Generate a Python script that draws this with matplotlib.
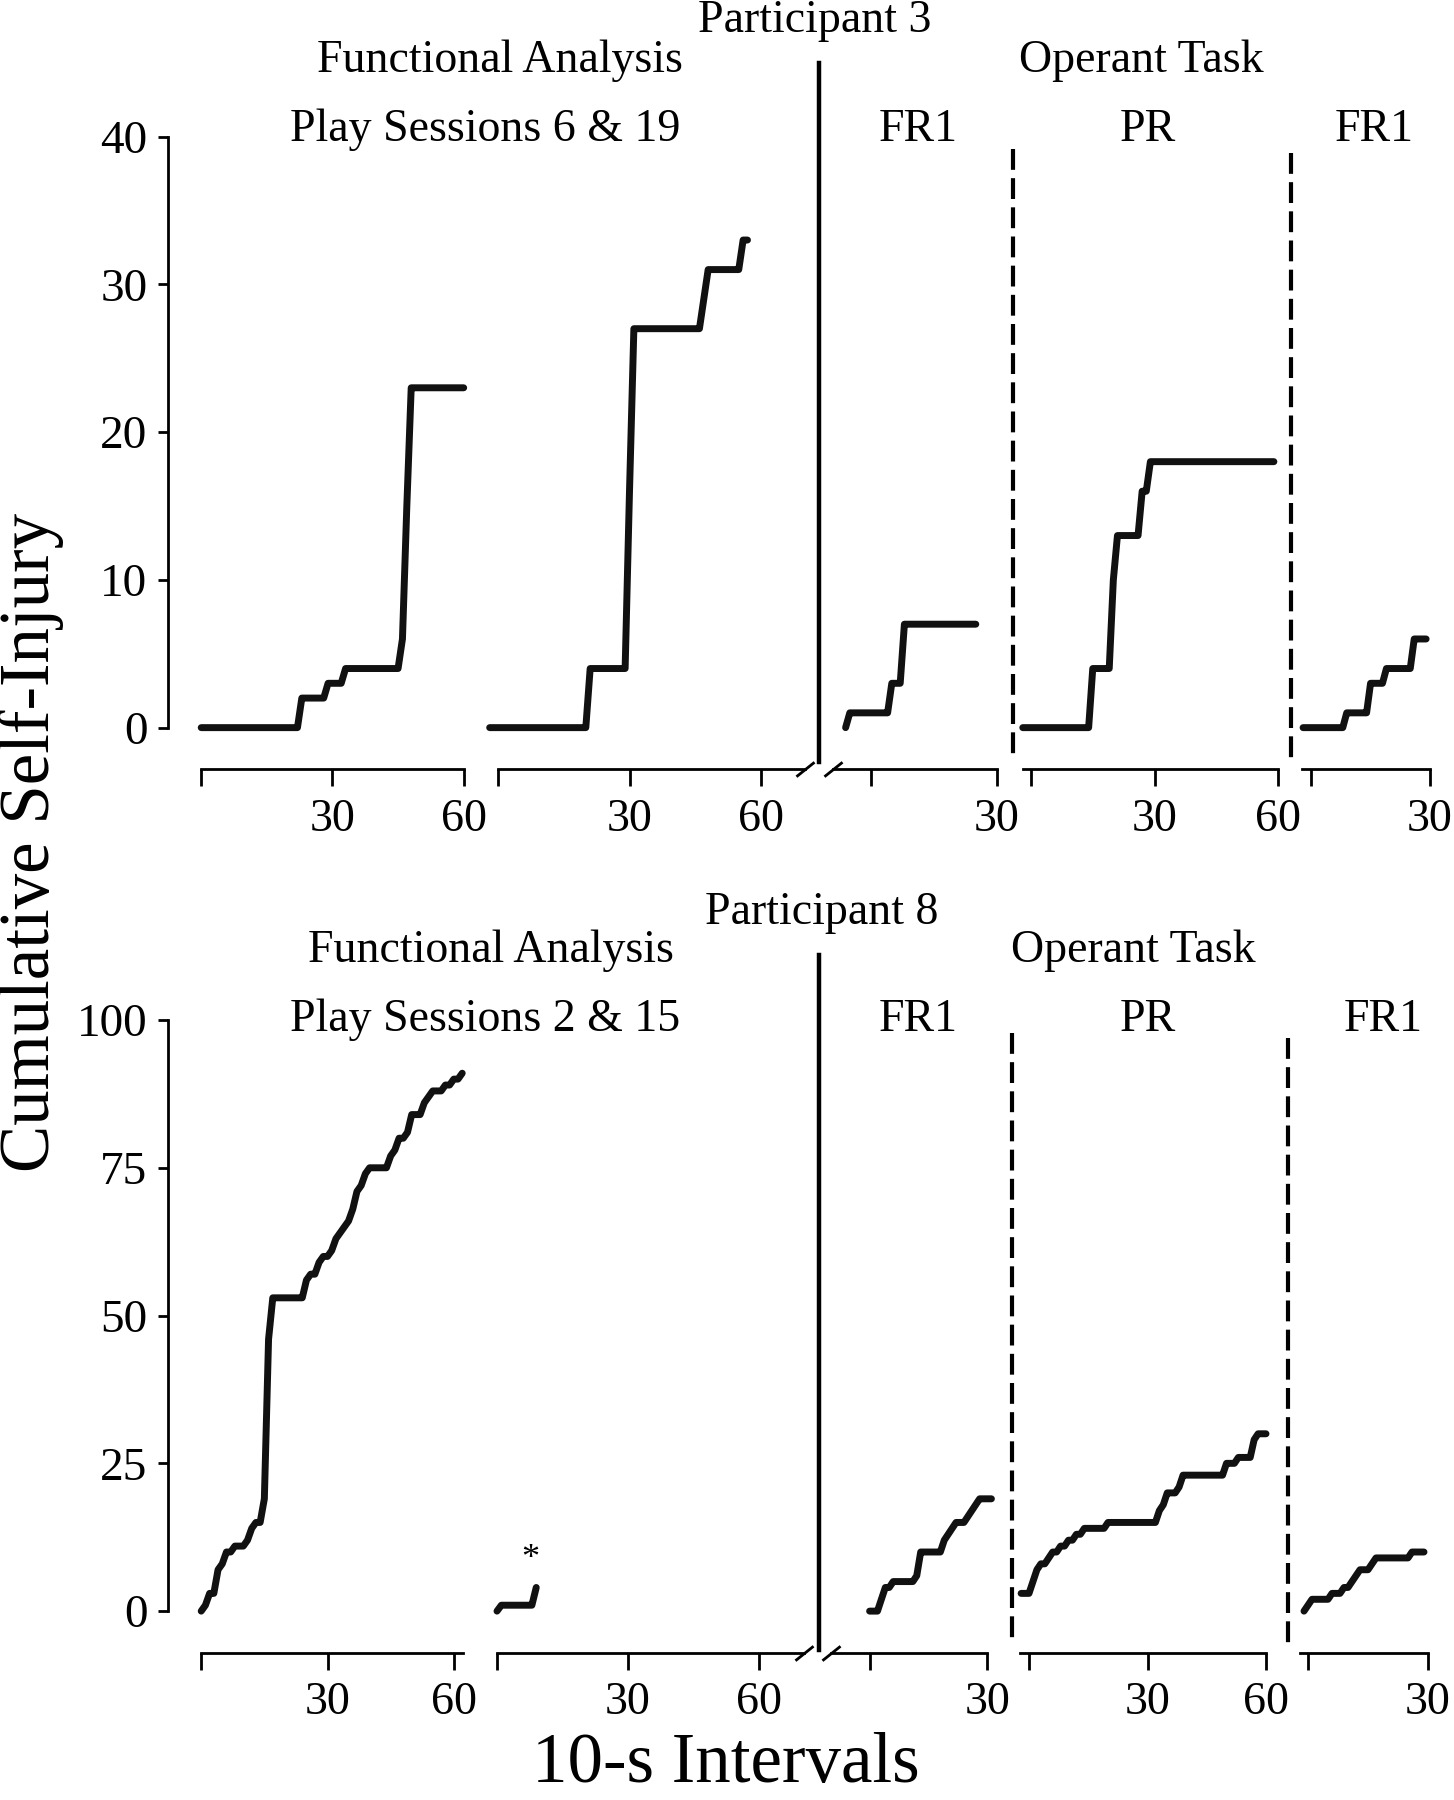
import matplotlib
matplotlib.use("Agg")
import matplotlib.pyplot as plt
from matplotlib.lines import Line2D
import numpy as np

plt.rcParams['font.family'] = ['Liberation Serif', 'DejaVu Serif']

# cumulative self-injury per 10-s interval; *_x0 = interval of the first value

# Participant 3
p3_fa6_x0 = 0
p3_fa6 = [0, 0, 0, 0, 0, 0, 0, 0, 0, 0, 0, 0, 0, 0, 0, 0, 0, 0, 0, 0,
          0, 0, 0, 2, 2, 2, 2, 2, 2, 3, 3, 3, 3, 4, 4, 4, 4, 4, 4, 4,
          4, 4, 4, 4, 4, 4, 6, 15, 23, 23, 23, 23, 23, 23, 23, 23, 23, 23, 23, 23,
          23]
p3_fa19_x0 = -2
p3_fa19 = [0, 0, 0, 0, 0, 0, 0, 0, 0, 0, 0, 0, 0, 0, 0, 0, 0, 0, 0, 0,
           0, 0, 0, 4, 4, 4, 4, 4, 4, 4, 4, 4, 16, 27, 27, 27, 27, 27, 27, 27,
           27, 27, 27, 27, 27, 27, 27, 27, 27, 29, 31, 31, 31, 31, 31, 31, 31, 31, 33, 33]
p3_fr1a_x0 = -6
p3_fr1a = [0, 1, 1, 1, 1, 1, 1, 1, 1, 1, 1, 3, 3, 3, 7, 7,
           7, 7, 7, 7, 7, 7, 7, 7, 7, 7, 7, 7, 7, 7, 7, 7]
p3_pr_x0 = -2
p3_pr = [0, 0, 0, 0, 0, 0, 0, 0, 0, 0, 0, 0, 0, 0, 0, 0, 0, 4, 4, 4,
         4, 4, 10, 13, 13, 13, 13, 13, 13, 16, 16, 18, 18, 18, 18, 18, 18, 18, 18, 18,
         18, 18, 18, 18, 18, 18, 18, 18, 18, 18, 18, 18, 18, 18, 18, 18, 18, 18, 18, 18,
         18, 18]
p3_fr1b_x0 = -2
p3_fr1b = [0, 0, 0, 0, 0, 0, 0, 0, 0, 0, 0, 1, 1, 1, 1, 1, 1, 3, 3, 3,
           3, 4, 4, 4, 4, 4, 4, 4, 6, 6, 6, 6]

# Participant 8
p8_fa2_x0 = 0
p8_fa2 = [0, 1, 3, 3, 7, 8, 10, 10, 11, 11, 11, 12, 14, 15, 15, 19, 46, 53, 53, 53,
          53, 53, 53, 53, 53, 56, 57, 57, 59, 60, 60, 61, 63, 64, 65, 66, 68, 71, 72, 74,
          75, 75, 75, 75, 75, 77, 78, 80, 80, 81, 84, 84, 84, 86, 87, 88, 88, 88, 89, 89,
          90, 90, 91]
p8_fa15_x0 = 0
p8_fa15 = [0, 1, 1, 1, 1, 1, 1, 1, 1, 4]
p8_fr1a_x0 = 0
p8_fr1a = [0, 0, 0, 2, 4, 4, 5, 5, 5, 5, 5, 5, 6, 10, 10, 10, 10, 10, 10, 12,
           13, 14, 15, 15, 15, 16, 17, 18, 19, 19, 19, 19]
p8_pr_x0 = -2
p8_pr = [3, 3, 3, 5, 7, 8, 8, 9, 10, 10, 11, 11, 12, 12, 13, 13, 14, 14, 14, 14,
         14, 14, 15, 15, 15, 15, 15, 15, 15, 15, 15, 15, 15, 15, 15, 17, 18, 20, 20, 20,
         21, 23, 23, 23, 23, 23, 23, 23, 23, 23, 23, 23, 25, 25, 25, 26, 26, 26, 26, 29,
         30, 30, 30]
p8_fr1b_x0 = -1
p8_fr1b = [0, 1, 2, 2, 2, 2, 2, 3, 3, 3, 4, 4, 5, 6, 7, 7, 7, 8, 9, 9,
           9, 9, 9, 9, 9, 9, 9, 10, 10, 10, 10]

p3_yticks = [0, 10, 20, 30, 40]
p8_yticks = [0, 25, 50, 75, 100]

W, H = 1454, 1800
fig = plt.figure(figsize=(W / 100, H / 100), dpi=100)


def fx(px):
    return px / W


def fy(px):
    return 1 - px / H


def vline(x, y0, y1, **kw):
    fig.add_artist(Line2D([fx(x), fx(x)], [fy(y0), fy(y1)], transform=fig.transFigure,
                          color='black', **kw))


rows = [
    dict(top=136.6, bottom=769, ylim=(-2.8, 40), yticks=p3_yticks,
         panels=[(201.2, 4.375, (-7.7, 61), (0, 60), [0, 30, 60], p3_fa6_x0, p3_fa6),
                 (498.4, 4.37, (-2.5, 71), (0, 70.1), [0, 30, 60], p3_fa19_x0, p3_fa19),
                 (870.8, 4.2, (-10, 31), (-9, 30), [0, 30], p3_fr1a_x0, p3_fr1a),
                 (1031, 4.117, (-3, 61), (-1.9, 60), [0, 30, 60], p3_pr_x0, p3_pr),
                 (1311, 3.97, (-3, 31), (-2.3, 30), [0, 30], p3_fr1b_x0, p3_fr1b)]),
    dict(top=1020, bottom=1652.5, ylim=(-7, 100), yticks=p8_yticks,
         panels=[(201.2, 4.21, (-8, 63.5), (0, 62.3), [0, 30, 60], p8_fa2_x0, p8_fa2),
                 (497, 4.36, (-2.5, 71), (0, 70.5), [0, 30, 60], p8_fa15_x0, p8_fa15),
                 (869.6, 3.93, (-11, 31.5), (-9.8, 30), [0, 30], p8_fr1a_x0, p8_fr1a),
                 (1029, 3.95, (-3, 61), (-2.3, 60), [0, 30, 60], p8_pr_x0, p8_pr),
                 (1308, 4.0, (-3, 31), (-2, 30), [0, 30], p8_fr1b_x0, p8_fr1b)]),
]

row_axes = []
for row in rows:
    axes = []
    for i, (p0, k, xlim, bounds, ticks, x0, vals) in enumerate(row['panels']):
        left = p0 + xlim[0] * k
        right = p0 + xlim[1] * k
        ax = fig.add_axes([fx(left), fy(row['bottom']), (right - left) / W,
                           (row['bottom'] - row['top']) / H])
        ax.set_xlim(*xlim)
        ax.set_ylim(*row['ylim'])
        x = x0 + np.arange(len(vals))
        ax.plot(x, vals, color='#111111', lw=5.0, solid_capstyle='round',
                solid_joinstyle='round', clip_on=False)
        for s in ['top', 'right']:
            ax.spines[s].set_visible(False)
        ax.spines['bottom'].set_bounds(*bounds)
        ax.spines['bottom'].set_linewidth(2)
        ax.set_xticks(ticks)
        ax.set_xticklabels(['' if t == 0 else str(t) for t in ticks])
        ax.tick_params(axis='x', length=12, width=2, pad=9, labelsize=33)
        if i == 0:
            ax.spines['left'].set_bounds(0, row['yticks'][-1])
            ax.spines['left'].set_linewidth(2)
            ax.set_yticks(row['yticks'])
            ax.tick_params(axis='y', length=7.5, width=2, pad=7, labelsize=34)
        else:
            ax.spines['left'].set_visible(False)
            ax.set_yticks([])
        ax.patch.set_visible(False)
        axes.append(ax)
    # axis break marks between functional analysis and operant task
    brk = dict(marker=[(-1, -0.8), (1, 0.8)], ms=13, mew=2, color='black',
               linestyle='none', clip_on=False)
    axes[1].plot([row['panels'][1][3][1]], [0], transform=axes[1].get_xaxis_transform(), **brk)
    axes[2].plot([row['panels'][2][3][0]], [0], transform=axes[2].get_xaxis_transform(), **brk)
    row_axes.append(axes)

# asterisk over the short play session 15 record
row_axes[1][1].text(7.6, 8.8, '*', ha='center', va='center', fontsize=26)

# phase separators
vline(819, 63, 762, lw=3.2)
vline(819, 955, 1650, lw=3.2)
dash = dict(lw=3, linestyle=(0, (5, 2)))
vline(1012.5, 149, 758, **dash)
vline(1290.8, 153, 758, **dash)
vline(1011.7, 1033, 1643, **dash)
vline(1287.5, 1038, 1643, **dash)

# headings
heads = [
    ('Participant 3', 815, 32), ('Functional Analysis', 500, 72), ('Operant Task', 1141, 72),
    ('Play Sessions 6 & 19', 485.5, 141), ('FR1', 918, 141), ('PR', 1148, 141), ('FR1', 1374, 141),
    ('Participant 8', 822, 924), ('Functional Analysis', 491, 962), ('Operant Task', 1133, 962),
    ('Play Sessions 2 & 15', 485.5, 1031), ('FR1', 918, 1031), ('PR', 1148, 1031), ('FR1', 1383, 1031),
]
for s, x, y in heads:
    fig.text(fx(x), fy(y), s, ha='center', va='baseline', fontsize=33)

fig.text(fx(31), fy(842), 'Cumulative Self-Injury', rotation=90, ha='center', va='center', fontsize=51)
fig.text(fx(726), fy(1797), '10-s Intervals', ha='center', va='bottom', fontsize=51)

fig.savefig('out.png', dpi=100)
